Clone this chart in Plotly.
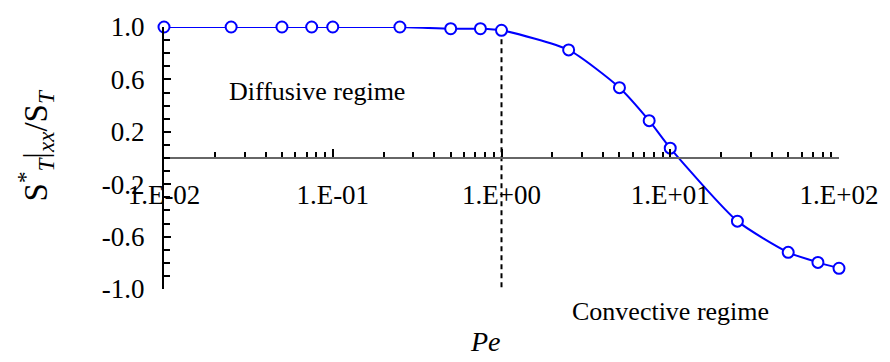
import plotly.graph_objects as go

# Peclet numbers and normalised S*_T|xx / S_T values
pe = [0.01, 0.025, 0.05, 0.075, 0.1, 0.25, 0.5, 0.75, 1.0,
      2.5, 5.0, 7.5, 10.0, 25.0, 50.0, 75.0, 100.0]
ratio = [1.0, 1.0, 1.0, 1.0, 1.0, 1.0, 0.987, 0.987, 0.975,
         0.825, 0.537, 0.285, 0.075, -0.482, -0.72, -0.797, -0.842]

# regime boundary at Pe = 1
boundary_pe = [1.0, 1.0]
boundary_y = [0.975, -1.0]

x_tickvals = [0.01, 0.1, 1, 10, 100]
x_ticktext = ["1.E-02", "1.E-01", "1.E+00", "1.E+01", "1.E+02"]
y_tickvals = [-1.0, -0.6, -0.2, 0.2, 0.6, 1.0]
y_ticktext = ["-1.0", "-0.6", "-0.2", "0.2", "0.6", "1.0"]

x_minor = [m * 10 ** e for e in range(-2, 2) for m in range(2, 10)]

FONT = "Liberation Serif"
BLUE = "#0000FF"

fig = go.Figure()

fig.add_trace(go.Scatter(
    x=boundary_pe, y=boundary_y, mode="lines",
    line=dict(color="black", width=2, dash="5px,4px"),
    hoverinfo="skip", showlegend=False,
))

fig.add_trace(go.Scatter(
    x=pe, y=ratio, mode="lines+markers",
    line=dict(color=BLUE, width=2, shape="spline", smoothing=0.6),
    marker=dict(symbol="circle", size=11, color="white",
                line=dict(color=BLUE, width=2)),
    cliponaxis=False, showlegend=False,
))

fig.update_xaxes(
    type="log", range=[-2, 2],
    anchor="free", position=0.5,
    showline=True, linecolor="#666666", linewidth=2,
    showgrid=False, zeroline=False,
    tickmode="array", tickvals=x_tickvals, ticktext=x_ticktext,
    ticks="inside", ticklen=8, tickwidth=1.5, tickcolor="black",
    ticklabelstandoff=13,
    tickfont=dict(family=FONT, size=27, color="black"),
    minor=dict(tickmode="array", tickvals=x_minor, ticks="inside",
               ticklen=5, tickwidth=1.5, tickcolor="black"),
)

fig.update_yaxes(
    range=[-1, 1],
    showline=True, linecolor="black", linewidth=2,
    showgrid=False, zeroline=False,
    tickmode="array", tickvals=y_tickvals, ticktext=y_ticktext,
    ticks="inside", ticklen=7, tickwidth=1.5, tickcolor="black",
    ticklabelstandoff=12,
    tickfont=dict(family=FONT, size=27, color="black"),
    minor=dict(dtick=0.1, tick0=0, ticks="inside", ticklen=6,
               tickwidth=1.5, tickcolor="black"),
)

fig.add_annotation(
    text="Diffusive regime", xref="paper", yref="paper",
    x=0.226, y=0.754, xanchor="center", yanchor="middle", showarrow=False,
    font=dict(family=FONT, size=26, color="black"),
)
fig.add_annotation(
    text="Convective regime", xref="paper", yref="paper",
    x=0.75, y=-0.086, xanchor="center", yanchor="middle", showarrow=False,
    font=dict(family=FONT, size=26, color="black"),
)
fig.add_annotation(
    text="<i>Pe</i>", xref="paper", yref="paper",
    x=0.477, y=-0.199, xanchor="center", yanchor="middle", showarrow=False,
    font=dict(family=FONT, size=28, color="black"),
)
fig.add_annotation(
    text="S<sup>*</sup><sub><i>T</i></sub>|<sub><i>xx</i></sub>/S<sub><i>T</i></sub>",
    xref="paper", yref="paper", x=-0.19, y=0.547,
    xanchor="center", yanchor="middle",
    showarrow=False, textangle=-90,
    font=dict(family=FONT, size=33, color="black"),
)

fig.update_layout(
    width=890, height=362,
    margin=dict(l=164, r=47, t=22, b=73),
    paper_bgcolor="white", plot_bgcolor="white",
)

fig.write_html("out.html")
